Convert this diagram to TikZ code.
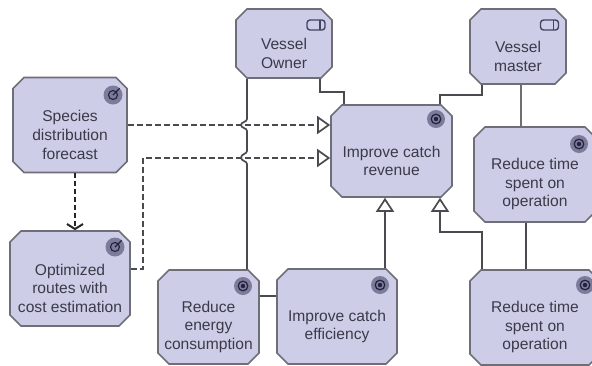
\documentclass[tikz,border=0pt]{standalone}
\usepackage{fontspec}
\setmainfont{Liberation Sans}
\usepackage{tikz}
\usetikzlibrary{arrows.meta,shapes.misc}
\definecolor{boxfill}{HTML}{CDCDE8}
\definecolor{boxline}{HTML}{6E6E78}
\definecolor{wire}{HTML}{4A4A50}
\definecolor{icongrey}{HTML}{7C7C9A}
\definecolor{icondark}{HTML}{22223F}
\definecolor{boxtext}{HTML}{3A3A48}
\newcommand{\dropline}{\rule{0pt}{31pt}}
\tikzset{
    %Define style for boxes
    element/.style={
           chamfered rectangle,
           chamfered rectangle corners={north west,north east,south west,south east},
           chamfered rectangle xsep=5.5pt,
           chamfered rectangle ysep=5.5pt,
           chamfered rectangle angle=45,
           draw=boxline, line width=1.6pt,
           fill=boxfill,
           inner sep=0pt,
           text=boxtext,
           align=center,
           font=\fontsize{15.6}{18.6}\selectfont
           },
    %Define style for icons
    actoricon/.style={
           rectangle,
           rounded corners=3pt,
           draw=icondark!80!boxfill, line width=1.4pt,
           minimum width=18pt,
           minimum height=10pt,
           inner sep=0pt,
           path picture={\draw[icondark!80!boxfill,line width=1.2pt]
               ([xshift=-5pt]path picture bounding box.north east) -- ([xshift=-5pt]path picture bounding box.south east);}
           },
    goalicon/.style={
           circle,
           fill=icongrey,
           minimum size=18pt,
           inner sep=0pt,
           path picture={
               \draw[icondark,line width=1.2pt] (path picture bounding box.center) circle (4.8pt);
               \fill[icondark] (path picture bounding box.center) circle (2.2pt);}
           },
    courseicon/.style={
           circle,
           fill=icongrey,
           minimum size=19pt,
           inner sep=0pt,
           path picture={
               \draw[icondark,line width=1.1pt] (path picture bounding box.center) circle (4.5pt);
               \draw[icondark,line width=1.2pt] (path picture bounding box.center) -- ++(8pt,8pt);}
           },
    % Define arrow style
    assoc/.style={draw=wire, line width=1.7pt},
    realize/.style={assoc, -{Triangle[open,fill=white,length=14pt,width=18pt]}},
    flow/.style={assoc, dash pattern=on 6pt off 3pt, -{Triangle[open,fill=white,length=13pt,width=18pt]}},
    trigger/.style={draw=black!85, line width=2pt, dash pattern=on 5pt off 3pt,
           -{Straight Barb[length=5pt,width=16pt]}}
}
\begin{document}
\begin{tikzpicture}[x=1pt,y=-1pt]
\useasboundingbox (0,0) rectangle (592,365);
\node[element, minimum width=96pt, minimum height=69pt](owner) at (284,43.5){\dropline Vessel\\Owner};
\node[element, minimum width=96pt, minimum height=75pt](master) at (518,46.5){\dropline Vessel\\master};
\node[element, minimum width=114pt, minimum height=95pt](species) at (70,125){\dropline Species\\distribution\\forecast};
\node[element, minimum width=121pt, minimum height=92pt](revenue) at (391.5,151){\dropline Improve catch\\revenue};
\node[element, minimum width=122pt, minimum height=95pt](timetop) at (535,174.5){\dropline Reduce time\\spent on\\operation};
\node[element, minimum width=120pt, minimum height=95pt](optimized) at (70,278.5){\dropline Optimized\\routes with\\cost estimation};
\node[element, minimum width=101pt, minimum height=94pt](energy) at (208.5,317){\dropline Reduce\\energy\\consumption};
\node[element, minimum width=120pt, minimum height=95pt](efficiency) at (337,316.5){\dropline Improve catch\\efficiency};
\node[element, minimum width=130pt, minimum height=95pt](timelow) at (535,317.5){\dropline Reduce time\\spent on\\operation};
% icons
\node[actoricon](ownericon) at (316,25){};
\node[actoricon](mastericon) at (549.5,25){};
\node[courseicon](speciesicon) at (113,95){};
\node[courseicon](optimizedicon) at (115,247){};
\node[goalicon](revenueicon) at (436,119){};
\node[goalicon](timetopicon) at (579,144){};
\node[goalicon](energyicon) at (243,286){};
\node[goalicon](efficiencyicon) at (380,285){};
\node[goalicon](timelowicon) at (585,285){};
% connectors
\draw[assoc] ([xshift=36pt]owner.south) -- ++(0,13) -| ([xshift=-47.5pt]revenue.north);
\draw[assoc] ([xshift=-36pt]master.south) -- ++(0,10) -| ([xshift=48.5pt]revenue.north);
\draw[assoc, line width=2pt, draw=wire!80] ([xshift=3pt]master.south) -- ([xshift=-14pt]timetop.north);
\draw[assoc] ([xshift=-9pt]timetop.south) -- ([xshift=-9pt]timelow.north);
\draw[assoc] ([xshift=-37pt]owner.south) -- (247,119)
    .. controls (247,122) and (241,122) .. (241,125)
    .. controls (241,128) and (247,128) .. (247,131) -- (247,151)
    .. controls (247,154) and (241,154) .. (241,157.5)
    .. controls (241,161) and (247,161) .. (247,164) -- ([xshift=38.5pt]energy.north);
\draw[assoc] (energy.east |- 0,296) -- (efficiency.west |- 0,296);
\draw[realize] ([xshift=48pt]efficiency.north) -- ([xshift=-6.5pt]revenue.south);
\draw[realize] ([xshift=-53pt]timelow.north) -- ++(0,-37) -| ([xshift=48.5pt]revenue.south);
\draw[flow] (species.east) -- (species.east -| revenue.west);
\draw[flow] ([yshift=9.5pt]optimized.east) -- ++(12,0) |- ([yshift=-7pt]revenue.west);
\draw[trigger] ([xshift=5pt]species.south) -- ([xshift=5pt]optimized.north);
\end{tikzpicture}
\end{document}
